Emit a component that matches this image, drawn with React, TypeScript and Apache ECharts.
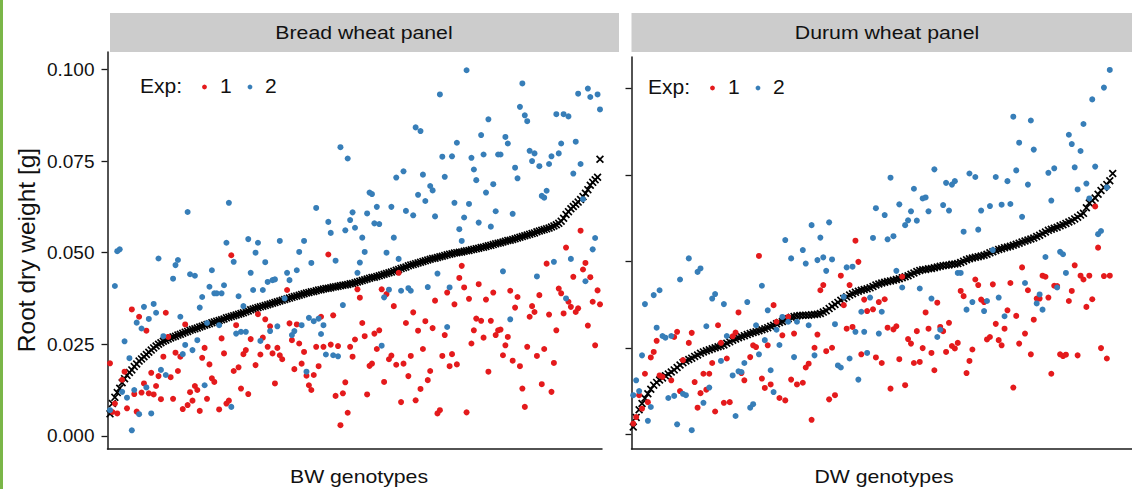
import React, { useEffect, useRef } from "react";
import * as echarts from "echarts";

// ---------- data ----------
const yTicks = [0, 0.025, 0.05, 0.075, 0.1];
const panelNames = ["Bread wheat panel", "Durum wheat panel"];
const xTitles = ["BW genotypes", "DW genotypes"];
const legendTitle = "Exp:";
const expLevels = ["1", "2"];
const yTitle = "Root dry weight [g]";

// genotype means (sorted), bread wheat panel
const bwMean = [
  0.0060, 0.0088, 0.0105, 0.0118, 0.0130, 0.0145, 0.0156, 0.0165, 0.0173, 0.0180,
  0.0189, 0.0196, 0.0204, 0.0210, 0.0216, 0.0222, 0.0228, 0.0234, 0.0240, 0.0245,
  0.0250, 0.0254, 0.0258, 0.0261, 0.0264, 0.0267, 0.0270, 0.0272, 0.0275, 0.0277,
  0.0280, 0.0283, 0.0285, 0.0288, 0.0290, 0.0292, 0.0294, 0.0297, 0.0299, 0.0302,
  0.0304, 0.0306, 0.0309, 0.0311, 0.0313, 0.0315, 0.0317, 0.0319, 0.0322, 0.0324,
  0.0326, 0.0328, 0.0330, 0.0332, 0.0334, 0.0336, 0.0339, 0.0341, 0.0344, 0.0346,
  0.0348, 0.0350, 0.0352, 0.0354, 0.0356, 0.0358, 0.0360, 0.0362, 0.0364, 0.0366,
  0.0368, 0.0370, 0.0372, 0.0374, 0.0376, 0.0378, 0.0380, 0.0382, 0.0384, 0.0386,
  0.0388, 0.0390, 0.0391, 0.0393, 0.0394, 0.0396, 0.0398, 0.0399, 0.0401, 0.0402,
  0.0403, 0.0404, 0.0406, 0.0407, 0.0408, 0.0410, 0.0411, 0.0412, 0.0413, 0.0415,
  0.0416, 0.0418, 0.0420, 0.0422, 0.0424, 0.0426, 0.0428, 0.0430, 0.0432, 0.0433,
  0.0435, 0.0437, 0.0439, 0.0441, 0.0443, 0.0445, 0.0447, 0.0449, 0.0452, 0.0454,
  0.0457, 0.0459, 0.0461, 0.0464, 0.0466, 0.0468, 0.0470, 0.0472, 0.0474, 0.0476,
  0.0478, 0.0480, 0.0482, 0.0484, 0.0485, 0.0487, 0.0489, 0.0490, 0.0492, 0.0494,
  0.0496, 0.0497, 0.0499, 0.0500, 0.0501, 0.0502, 0.0504, 0.0505, 0.0506, 0.0508,
  0.0509, 0.0511, 0.0512, 0.0514, 0.0515, 0.0517, 0.0519, 0.0520, 0.0522, 0.0524,
  0.0526, 0.0527, 0.0529, 0.0531, 0.0533, 0.0534, 0.0536, 0.0538, 0.0540, 0.0542,
  0.0544, 0.0546, 0.0548, 0.0550, 0.0552, 0.0554, 0.0557, 0.0559, 0.0561, 0.0563,
  0.0565, 0.0567, 0.0570, 0.0573, 0.0576, 0.0580, 0.0586, 0.0594, 0.0604, 0.0612,
  0.0620, 0.0626, 0.0632, 0.0638, 0.0645, 0.0653, 0.0662, 0.0672, 0.0684, 0.0692,
  0.0699, 0.0706, 0.0755,
];

// experiment 1, bread wheat (same genotype order)
const bwExp1 = [
  0.0198, 0.0065, 0.0088, 0.0061, null, 0.0153, 0.0175, 0.0075, null, 0.0345,
  0.0114, 0.0066, 0.0325, 0.0118, 0.0143, 0.0287, 0.0116, 0.0172, 0.0113, 0.0136,
  0.0163, 0.0100, 0.0216, 0.0336, 0.0270, 0.0160, 0.0101, 0.0227, 0.0177, 0.0216,
  0.0073, 0.0304, 0.0084, 0.0119, 0.0096, 0.0136, 0.0125, 0.0068, 0.0213, 0.0240,
  0.0101, 0.0195, 0.0157, 0.0147, null, 0.0072, 0.0266, 0.0225, 0.0088, 0.0096,
  0.0493, 0.0177, 0.0302, 0.0187, 0.0129, 0.0223, 0.0234, 0.0114, 0.0264, null,
  0.0193, 0.0332, 0.0222, 0.0268, 0.0318, 0.0243, 0.0299, 0.0225, 0.0143, 0.0240,
  0.0220, 0.0209, null, 0.0398, 0.0307, 0.0261, 0.0182, 0.0304, 0.0252, 0.0197,
  0.0229, 0.0164, 0.0138, 0.0125, 0.0166, 0.0243, 0.0190, 0.0325, 0.0243, null,
  0.0495, 0.0249, 0.0329, 0.0109, 0.0245, 0.0029, 0.0116, 0.0146, 0.0063, 0.0243,
  0.0216, 0.0263, 0.0400, 0.0377, 0.0308, 0.0272, 0.0113, 0.0191, 0.0197, 0.0279,
  0.0237, 0.0288, 0.0400, 0.0147, 0.0387, 0.0209, 0.0219, 0.0354, 0.0194, 0.0445,
  0.0092, 0.0197, 0.0308, 0.0163, 0.0218, 0.0337, 0.0097, 0.0287, 0.0128, 0.0237,
  0.0313, 0.0152, 0.0177, 0.0294, 0.0369, 0.0061, 0.0070, 0.0218, 0.0275, 0.0391,
  0.0190, 0.0223, 0.0359, 0.0195, 0.0431, 0.0464, 0.0405, 0.0064, 0.0374, 0.0252,
  0.0288, 0.0320, 0.0414, 0.0314, 0.0268, 0.0372, 0.0175, 0.0314, 0.0391, 0.0275,
  0.0288, 0.0290, 0.0220, 0.0247, 0.0270, 0.0396, 0.0205, 0.0350, 0.0379, 0.0190,
  0.0129, 0.0079, 0.0243, 0.0325, 0.0354, 0.0338, 0.0218, 0.0384, 0.0141, 0.0237,
  0.0470, 0.0331, 0.0120, 0.0199, 0.0288, 0.0402, 0.0389, 0.0334, 0.0514, 0.0366,
  0.0352, 0.0434, 0.0338, 0.0348, 0.0560, 0.0454, 0.0472, 0.0301, 0.0433, 0.0366,
  0.0247, 0.0397, 0.0359,
];

// experiment 2, bread wheat
const bwExp2 = [
  0.0070, null, 0.0409, 0.0504, 0.0509, 0.0120, 0.0258, 0.0104, 0.0212, 0.0015,
  0.0125, 0.0309, 0.0059, 0.0293, 0.0352, 0.0132, 0.0319, 0.0061, 0.0360, 0.0336,
  0.0484, 0.0180, 0.0272, 0.0166, null, null, 0.0429, 0.0466, 0.0480, 0.0325,
  0.0223, 0.0248, 0.0611, 0.0441, 0.0234, 0.0437, 0.0261, 0.0350, 0.0379, 0.0138,
  0.0308, 0.0407, 0.0452, 0.0389, 0.0389, 0.0302, 0.0389, 0.0411, 0.0527, 0.0636,
  0.0079, 0.0475, 0.0279, 0.0381, 0.0284, 0.0354, 0.0284, 0.0537, 0.0445, 0.0398,
  0.0500, 0.0527, 0.0259, 0.0398, 0.0474, 0.0420, 0.0286, 0.0425, 0.0427, 0.0299,
  0.0532, null, 0.0375, 0.0445, 0.0425, 0.0275, 0.0286, 0.0452, 0.0502, 0.0302,
  0.0532, 0.0175, 0.0322, 0.0472, 0.0313, 0.0622, 0.0320, 0.0278, 0.0302, 0.0222,
  0.0584, 0.0554, 0.0220, 0.0478, 0.0217, 0.0788, 0.0357, 0.0561, 0.0757, 0.0589,
  0.0610, 0.0568, 0.0445, 0.0473, 0.0541, 0.0502, 0.0607, 0.0664, 0.0660, 0.0580,
  0.0625, 0.0578, 0.0246, 0.0378, 0.0500, 0.0399, 0.0625, 0.0541, 0.0705, 0.0483,
  0.0396, 0.0722, 0.0614, 0.0403, 0.0396, 0.0602, 0.0842, 0.0658, 0.0832, 0.0713,
  0.0641, 0.0406, 0.0682, 0.0670, 0.0599, 0.0443, 0.0932, 0.0762, 0.0707, 0.0297,
  0.0405, 0.0763, 0.0636, 0.0800, 0.0564, 0.0532, 0.0596, 0.0998, 0.0633, 0.0759,
  0.0727, 0.0698, 0.0582, 0.0821, 0.0768, 0.0664, 0.0864, 0.0571, 0.0687, 0.0613,
  0.0768, 0.0768, 0.0449, 0.0816, 0.0798, 0.0318, 0.0606, 0.0732, 0.0703, 0.0898,
  0.0962, 0.0875, 0.0859, 0.0778, 0.0750, 0.0771, 0.0435, 0.0736, 0.0655, 0.0650,
  0.0669, 0.0742, 0.0763, 0.0475, 0.0878, 0.0771, 0.0798, 0.0878, 0.0375, 0.0872,
  0.0483, 0.0716, 0.0803, 0.0934, 0.0742, 0.0646, 0.0422, 0.0948, 0.0925, 0.0509,
  0.0540, 0.0932, 0.0891,
];

// genotype means (sorted), durum wheat panel
const dwMean = [
  0.0022, 0.0050, 0.0072, 0.0090, 0.0105, 0.0118, 0.0131, 0.0143, 0.0151, 0.0158,
  0.0164, 0.0170, 0.0175, 0.0181, 0.0187, 0.0194, 0.0201, 0.0208, 0.0213, 0.0217,
  0.0221, 0.0226, 0.0230, 0.0235, 0.0239, 0.0242, 0.0245, 0.0248, 0.0251, 0.0254,
  0.0256, 0.0259, 0.0264, 0.0268, 0.0273, 0.0276, 0.0280, 0.0283, 0.0286, 0.0289,
  0.0292, 0.0295, 0.0297, 0.0300, 0.0303, 0.0306, 0.0309, 0.0313, 0.0316, 0.0320,
  0.0324, 0.0327, 0.0331, 0.0335, 0.0339, 0.0341, 0.0343, 0.0344, 0.0345, 0.0345,
  0.0345, 0.0346, 0.0347, 0.0348, 0.0350, 0.0354, 0.0358, 0.0364, 0.0370, 0.0376,
  0.0382, 0.0388, 0.0393, 0.0398, 0.0403, 0.0407, 0.0411, 0.0414, 0.0417, 0.0419,
  0.0421, 0.0424, 0.0428, 0.0432, 0.0435, 0.0438, 0.0440, 0.0442, 0.0444, 0.0446,
  0.0448, 0.0450, 0.0453, 0.0456, 0.0459, 0.0463, 0.0467, 0.0471, 0.0474, 0.0476,
  0.0477, 0.0479, 0.0480, 0.0482, 0.0484, 0.0486, 0.0488, 0.0489, 0.0490, 0.0492,
  0.0493, 0.0494, 0.0497, 0.0501, 0.0505, 0.0508, 0.0510, 0.0512, 0.0514, 0.0516,
  0.0518, 0.0521, 0.0525, 0.0528, 0.0532, 0.0535, 0.0537, 0.0540, 0.0542, 0.0544,
  0.0547, 0.0550, 0.0553, 0.0556, 0.0559, 0.0562, 0.0565, 0.0568, 0.0572, 0.0576,
  0.0581, 0.0585, 0.0590, 0.0593, 0.0596, 0.0599, 0.0603, 0.0606, 0.0610, 0.0614,
  0.0618, 0.0623, 0.0628, 0.0634, 0.0639, 0.0655, 0.0669, 0.0676, 0.0683, 0.0694,
  0.0705, 0.0714, 0.0722, 0.0733, 0.0754,
];

// experiment 1, durum wheat
const dwExp1 = [
  0.0032, 0.0051, 0.0114, 0.0075, 0.0176, 0.0094, 0.0223, 0.0239, 0.0271, 0.0171,
  0.0167, null, null, 0.0157, 0.0282, 0.0297, 0.0126, 0.0215, null, 0.0265,
  0.0294, 0.0152, 0.0078, 0.0120, 0.0176, 0.0130, 0.0176, 0.0207, 0.0067, 0.0316,
  0.0265, 0.0092, 0.0220, 0.0094, 0.0284, 0.0295, 0.0353, 0.0178, 0.0157, null,
  0.0224, 0.0258, 0.0253, 0.0516, 0.0162, 0.0135, 0.0258, 0.0145, 0.0374, 0.0326,
  0.0106, 0.0287, 0.0099, 0.0340, 0.0159, 0.0292, 0.0145, null, 0.0150, 0.0194,
  0.0205, 0.0043, 0.0251, 0.0289, 0.0417, 0.0432, 0.0241, 0.0102, 0.0251, 0.0114,
  null, 0.0459, 0.0374, 0.0306, 0.0432, 0.0311, 0.0560, 0.0499, 0.0232, 0.0390,
  0.0357, null, 0.0362, 0.0223, 0.0383, 0.0207, 0.0391, 0.0309, 0.0133, 0.0304,
  0.0313, 0.0218, 0.0456, 0.0143, 0.0276, 0.0263, 0.0207, 0.0299, 0.0210, 0.0250,
  0.0353, 0.0306, 0.0236, 0.0186, 0.0381, 0.0311, 0.0299, 0.0239, 0.0323, 0.0256,
  0.0249, 0.0265, 0.0415, 0.0400, 0.0178, 0.0213, 0.0246, 0.0448, 0.0432, 0.0390,
  0.0383, 0.0275, 0.0282, 0.0434, 0.0320, 0.0273, 0.0258, 0.0306, 0.0359, 0.0438,
  0.0136, 0.0343, 0.0263, 0.0483, 0.0292, 0.0417, 0.0232, 0.0332, 0.0393, 0.0393,
  0.0459, 0.0456, 0.0396, 0.0176, 0.0430, 0.0429, 0.0232, 0.0227, 0.0231, 0.0386,
  0.0415, 0.0489, 0.0229, 0.0459, 0.0448, 0.0369, 0.0459, 0.0391, 0.0659, 0.0540,
  0.0250, 0.0458, 0.0220, 0.0459, null,
];

// experiment 2, durum wheat
const dwExp2 = [
  0.0114, 0.0157, 0.0126, 0.0229, 0.0377, 0.0040, 0.0080, 0.0403, 0.0309, 0.0417,
  0.0285, 0.0280, 0.0106, 0.0285, 0.0112, 0.0030, 0.0448, 0.0118, 0.0114, 0.0509,
  0.0013, null, 0.0470, 0.0480, 0.0092, 0.0313, 0.0136, 0.0393, 0.0406, null,
  0.0213, 0.0377, 0.0285, null, 0.0171, 0.0054, 0.0183, 0.0181, 0.0207, 0.0383,
  0.0078, 0.0088, 0.0316, 0.0232, 0.0430, 0.0273, 0.0359, 0.0186, 0.0123, 0.0303,
  0.0259, 0.0340, 0.0562, 0.0326, 0.0509, 0.0224, 0.0326, null, 0.0533, 0.0494,
  0.0316, 0.0605, 0.0229, 0.0504, 0.0569, 0.0512, 0.0473, 0.0613, 0.0506, 0.0319,
  0.0200, 0.0194, 0.0398, 0.0483, 0.0220, 0.0485, 0.0297, 0.0159, 0.0355, 0.0297,
  0.0236, 0.0396, 0.0568, 0.0654, 0.0292, 0.0355, 0.0634, 0.0564, 0.0742, 0.0573,
  0.0473, 0.0665, 0.0425, 0.0605, 0.0619, 0.0645, 0.0710, 0.0618, 0.0422, 0.0682,
  0.0685, 0.0645, 0.0393, 0.0766, 0.0282, 0.0303, 0.0663, 0.0727, 0.0647, 0.0722,
  0.0732, 0.0467, 0.0467, 0.0586, 0.0361, 0.0754, 0.0383, 0.0744, 0.0592, 0.0647,
  0.0357, 0.0386, 0.0660, 0.0533, 0.0744, 0.0396, 0.0664, 0.0342, 0.0732, 0.0666,
  0.0918, 0.0763, 0.0843, 0.0629, 0.0438, 0.0722, 0.0907, 0.0823, 0.0379, 0.0405,
  0.0361, 0.0513, 0.0756, 0.0676, 0.0769, 0.0425, 0.0528, 0.0521, 0.0467, 0.0866,
  0.0839, 0.0772, 0.0708, 0.0819, 0.0897, 0.0725, 0.0682, 0.0968, 0.0774, 0.0579,
  0.0588, 0.1002, 0.0714, 0.1053, null,
];

// ---------- style ----------
const RED = "#E41A1C";
const BLUE = "#377EB8";
const INK = "#1a1a1a";
const FONT = "'Liberation Sans', Arial, Helvetica, sans-serif";
const CROSS =
  "path://M0,1.5L1.5,0L5,3.5L8.5,0L10,1.5L6.5,5L10,8.5L8.5,10L5,6.5L1.5,10L0,8.5L3.5,5Z";

function toPairs(arr: (number | null)[]) {
  const out: [number, number][] = [];
  arr.forEach((v, i) => {
    if (v !== null && v !== undefined) out.push([i, v]);
  });
  return out;
}

function scatter(name: string, data: (number | null)[], axis: number, color: string, isMean: boolean) {
  return {
    name,
    type: "scatter",
    xAxisIndex: axis,
    yAxisIndex: axis,
    data: toPairs(data),
    symbol: isMean ? CROSS : "circle",
    symbolSize: isMean ? 8 : 6,
    itemStyle: { color, opacity: 1 },
    z: isMean ? 2 : 3,
    silent: true,
  };
}

function xAxisCfg(gridIndex: number, min: number, max: number) {
  return {
    gridIndex,
    type: "value",
    min,
    max,
    axisLine: { show: true, onZero: false, lineStyle: { color: INK, width: 1.5 } },
    axisTick: { show: false },
    axisLabel: { show: false },
    splitLine: { show: false },
  };
}

function yAxisCfg(gridIndex: number, min: number, max: number, labels: boolean) {
  return {
    gridIndex,
    type: "value",
    min,
    max,
    axisLine: { show: true, onZero: false, lineStyle: { color: INK, width: 1.5 } },
    axisTick: {
      show: true,
      length: 6,
      customValues: yTicks,
      lineStyle: { color: INK, width: 1.3 },
    },
    axisLabel: {
      show: labels,
      customValues: yTicks,
      formatter: (v: number) => v.toFixed(3),
      fontSize: 19,
      fontFamily: FONT,
      color: "#111",
      margin: 13,
    },
    splitLine: { show: false },
  };
}

function legendGroup(left: number, cy: number) {
  const t = (x: number, text: string) => ({
    type: "text",
    x,
    y: cy,
    scaleX: 1.08,
    style: { text, fontSize: 19.5, fontFamily: FONT, fill: "#111", align: "left", verticalAlign: "middle" },
  });
  return [
    t(left, legendTitle),
    { type: "circle", shape: { cx: left + 64.5, cy: cy + 0.5, r: 2.4 }, style: { fill: RED } },
    t(left + 80, expLevels[0]),
    { type: "circle", shape: { cx: left + 110, cy: cy + 0.5, r: 2.4 }, style: { fill: BLUE } },
    t(left + 125, expLevels[1]),
  ];
}

export default function App() {
  const ref = useRef<HTMLDivElement>(null);

  useEffect(() => {
    if (!ref.current) return;
    const chart = echarts.init(ref.current, null, { renderer: "svg" });

    const headerText = (x: number, text: string) => ({
      type: "text",
      x,
      y: 33,
      scaleX: 1.15,
      style: { text, fontSize: 18.5, fontFamily: FONT, fill: "#111", align: "center", verticalAlign: "middle" },
    });
    const xTitle = (x: number, text: string) => ({
      type: "text",
      x,
      y: 477,
      scaleX: 1.18,
      style: { text, fontSize: 18, fontFamily: FONT, fill: "#111", align: "center", verticalAlign: "middle" },
    });

    chart.setOption({
      animation: false,
      backgroundColor: "#ffffff",
      grid: [
        { left: 107.5, top: 52, width: 494.5, height: 397 },
        { left: 631.5, top: 57, width: 512, height: 392 },
      ],
      xAxis: [xAxisCfg(0, -1.03, 202.83), xAxisCfg(1, -0.6, 170.6)],
      yAxis: [yAxisCfg(0, -0.0036, 0.10478, true), yAxisCfg(1, -0.00413, 0.10904, false)],
      series: [
        scatter("BW mean", bwMean, 0, "#000000", true),
        scatter("BW Exp 1", bwExp1, 0, RED, false),
        scatter("BW Exp 2", bwExp2, 0, BLUE, false),
        scatter("DW mean", dwMean, 1, "#000000", true),
        scatter("DW Exp 1", dwExp1, 1, RED, false),
        scatter("DW Exp 2", dwExp2, 1, BLUE, false),
      ],
      graphic: [
        { type: "rect", shape: { x: 0, y: 0, width: 3, height: 489 }, style: { fill: "#7ab648" } },
        { type: "rect", shape: { x: 110, y: 13, width: 509, height: 39 }, style: { fill: "#cccccc" } },
        { type: "rect", shape: { x: 631.5, y: 13, width: 512, height: 39 }, style: { fill: "#cccccc" } },
        headerText(364, panelNames[0]),
        headerText(887, panelNames[1]),
        xTitle(359, xTitles[0]),
        xTitle(884, xTitles[1]),
        {
          type: "text",
          x: 26,
          y: 250,
          rotation: Math.PI / 2,
          style: { text: yTitle, fontSize: 24.5, fontFamily: FONT, fill: "#111", align: "center", verticalAlign: "middle" },
        },
        ...legendGroup(140, 86.5),
        ...legendGroup(648, 87.5),
      ],
    });

    return () => chart.dispose();
  }, []);

  return (
    <div
      ref={ref}
      style={{ position: "fixed", left: 0, top: 0, width: 1132, height: 489, background: "#fff" }}
    />
  );
}
